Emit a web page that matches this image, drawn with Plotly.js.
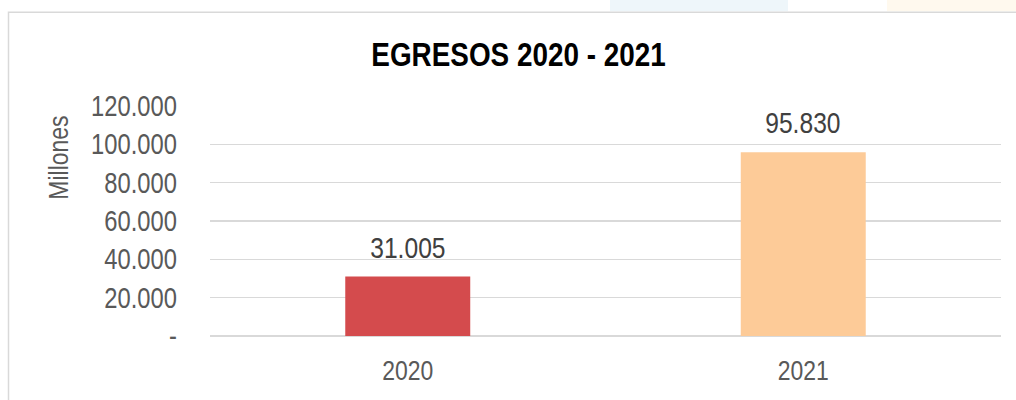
<!DOCTYPE html>
<html>
<head>
<meta charset="utf-8">
<script src="https://cdn.plot.ly/plotly-3.0.1.min.js"></script>
<style>
html,body{margin:0;padding:0;background:#fff;}
#chart{width:1016px;height:400px;}
</style>
</head>
<body>
<div id="chart"></div>
<script>
const categories = ["2020", "2021"];
const values = [31005, 95830];
const valueLabels = ["31.005", "95.830"];
const barColors = ["#D44B4D", "#FDCB98"];
const yTickVals = [0, 20000, 40000, 60000, 80000, 100000, 120000];
const yTickText = ["-", "20.000", "40.000", "60.000", "80.000", "100.000", "120.000"];
const titleText = "EGRESOS 2020 - 2021";
const yTitle = "Millones";

const FONT = '"Liberation Sans", Arial, sans-serif';
const NARROW = 0.82; // emulate Arial Narrow

const trace = {
  type: "bar",
  x: categories,
  y: values,
  marker: {color: barColors, line: {width: 0}},
  hoverinfo: "skip",
  showlegend: false
};

const annotations = categories.map((c, i) => ({
  x: i, y: values[i], xref: "x", yref: "y",
  text: valueLabels[i], showarrow: false,
  xanchor: "center", yanchor: "bottom", yshift: 11,
  font: {family: FONT, size: 30, color: "#404040"}
}));
annotations.push({
  xref: "paper", yref: "paper", x: (59 - 210) / 791, y: (336.5 - 158) / 230.5,
  text: yTitle, textangle: -90, showarrow: false,
  xanchor: "center", yanchor: "middle",
  font: {family: FONT, size: 28, color: "#595959"}
});

const px = v => (v - 210) / 791;
const py = v => (336.5 - v) / 230.5;

const layout = {
  width: 1016, height: 400,
  margin: {l: 210, r: 15, t: 106, b: 63.5},
  paper_bgcolor: "#ffffff",
  plot_bgcolor: "#ffffff",
  title: {
    text: "<b>" + titleText + "</b>",
    font: {family: FONT, size: 34, color: "#000000"},
    x: 518.5 / 1016, xref: "container", xanchor: "center",
    y: 1 - 54 / 400, yref: "container", yanchor: "middle"
  },
  bargap: 0.684,
  xaxis: {
    type: "category", range: [-0.5, 1.5],
    showgrid: false, showline: false, zeroline: false,
    ticks: "", ticklabelstandoff: 15,
    tickfont: {family: FONT, size: 28, color: "#595959"}
  },
  yaxis: {
    range: [0, 120000],
    tickvals: yTickVals, ticktext: yTickText,
    showgrid: true, gridcolor: "#D9D9D9", gridwidth: 1.5,
    zeroline: true, zerolinecolor: "#D9D9D9", zerolinewidth: 1.5,
    showline: false, ticks: "", ticklabelstandoff: 32,
    tickfont: {family: FONT, size: 29, color: "#595959"}
  },
  annotations: annotations,
  shapes: [
    {type: "rect", xref: "paper", yref: "paper", layer: "below",
     x0: px(610), x1: px(788), y0: py(11), y1: py(-2),
     fillcolor: "#EEF6FA", line: {width: 0}},
    {type: "rect", xref: "paper", yref: "paper", layer: "below",
     x0: px(887), x1: px(1020), y0: py(11), y1: py(-2),
     fillcolor: "#FFF9EE", line: {width: 0}},
    {type: "rect", xref: "paper", yref: "paper", layer: "below",
     x0: px(8.5), x1: px(1030), y0: py(420), y1: py(12),
     fillcolor: "rgba(0,0,0,0)", line: {color: "#D9D9D9", width: 1.5}}
  ]
};

function narrowText(gd) {
  gd.querySelectorAll("svg text").forEach(el => {
    if (!el.textContent) return;
    const bb = el.getBBox();
    const anchor = el.getAttribute("text-anchor") || "start";
    let cx = bb.x + bb.width / 2;
    if (anchor === "end") cx = bb.x + bb.width;
    else if (anchor === "start") cx = bb.x;
    const t = el.getAttribute("transform") || "";
    el.setAttribute("transform",
      (t + " translate(" + cx + ",0) scale(" + NARROW + ",1) translate(" + (-cx) + ",0)").trim());
  });
}

Plotly.newPlot("chart", [trace], layout, {displayModeBar: false, staticPlot: true})
  .then(gd => narrowText(gd));
</script>
</body>
</html>
